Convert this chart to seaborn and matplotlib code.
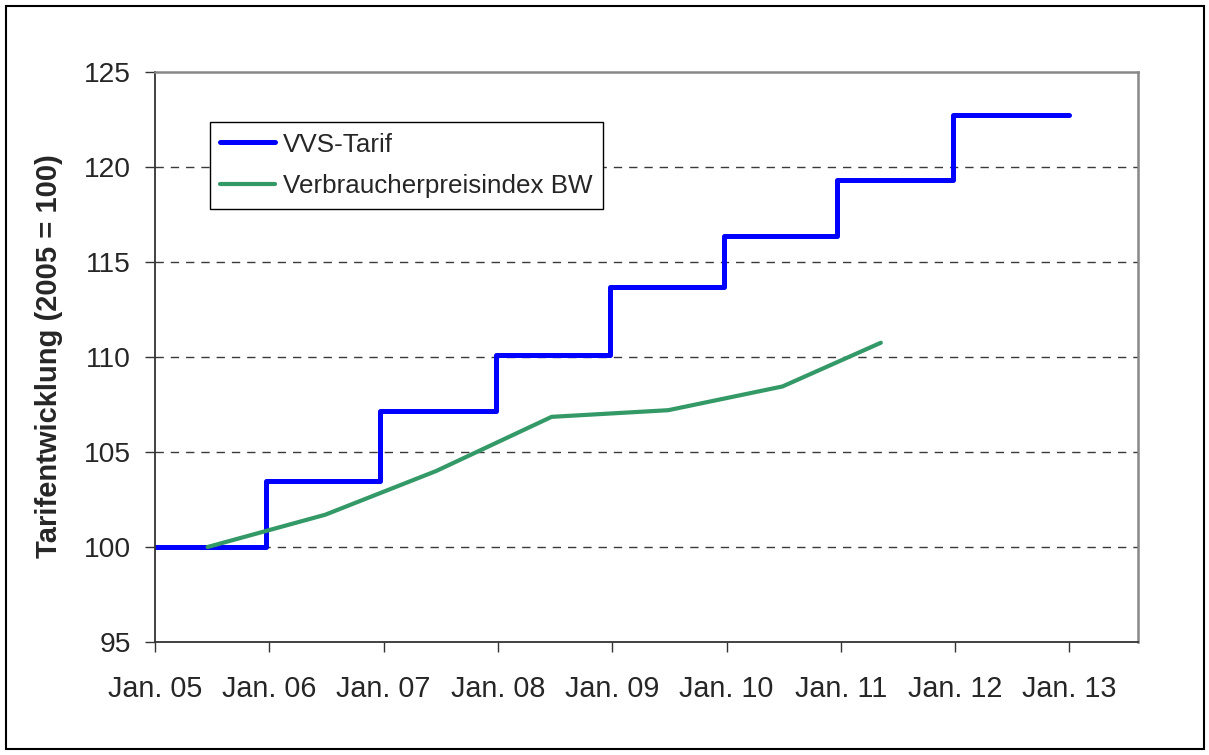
import numpy as np
import pandas as pd
import matplotlib.pyplot as plt
import seaborn as sns
from matplotlib.patches import Rectangle

# VVS-Tarif: Tarifstufen (Jahresanfang), Index 2005 = 100
tarif_dates = [2005.0, 2005.97, 2006.97, 2007.98, 2008.98, 2009.98, 2010.97, 2011.98, 2013.0]
tarif_values = [100.0, 103.45, 107.15, 110.1, 113.7, 116.35, 119.3, 122.75, 122.75]

# Verbraucherpreisindex BW (Jahresmittel, mittig im Jahr)
vpi_dates = [2005.46, 2006.49, 2007.46, 2008.47, 2009.49, 2010.49, 2011.35]
vpi_values = [100.0, 101.7, 104.0, 106.85, 107.2, 108.45, 110.75]

tick_years = [2005, 2006, 2007, 2008, 2009, 2010, 2011, 2012, 2013]
tick_labels = ['Jan. 05', 'Jan. 06', 'Jan. 07', 'Jan. 08', 'Jan. 09',
               'Jan. 10', 'Jan. 11', 'Jan. 12', 'Jan. 13']

sns.set_style('white')
plt.rcParams['font.family'] = ['Liberation Sans', 'DejaVu Sans']

fig = plt.figure(figsize=(12.09, 7.55), dpi=100)
ax = fig.add_axes([155 / 1209, 1 - 642 / 755, (1138 - 155) / 1209, (642 - 72) / 755])

tarif = pd.DataFrame({'x': tarif_dates, 'y': tarif_values})
vpi = pd.DataFrame({'x': vpi_dates, 'y': vpi_values})

sns.lineplot(data=tarif, x='x', y='y', ax=ax, color='#0000FF', linewidth=3.6,
             drawstyle='steps-post', estimator=None, label='VVS-Tarif')
sns.lineplot(data=vpi, x='x', y='y', ax=ax, color='#339966', linewidth=3.0,
             estimator=None, label='Verbraucherpreisindex BW')

ax.set_xlim(2005, 2013.6)
ax.set_ylim(95, 125)
ax.set_xticks(tick_years)
ax.set_xticklabels(tick_labels)
ax.set_yticks([95, 100, 105, 110, 115, 120, 125])
ax.set_xlabel('')
ax.set_ylabel('')

# gestrichelte Gitterlinien
for v in [100, 105, 110, 115, 120]:
    ax.axhline(v, color='#3a3a3a', linewidth=1.0, linestyle=(0, (6, 5)), zorder=0)

for s in ['left', 'bottom']:
    ax.spines[s].set_color('#333333')
    ax.spines[s].set_linewidth(1.3)
for s in ['top', 'right']:
    ax.spines[s].set_color('#888888')
    ax.spines[s].set_linewidth(1.8)

ax.tick_params(axis='x', direction='out', length=7.5, width=1, color='#333333',
               labelsize=20.7, pad=16.5, bottom=True)
ax.tick_params(axis='y', direction='out', length=7.5, width=1, color='#333333',
               labelsize=20.3, pad=10, left=True)

leg = ax.legend(loc='upper left', bbox_to_anchor=(0.056, 0.912), fontsize=18.75,
                frameon=True, fancybox=False, edgecolor='black', framealpha=1,
                handlelength=2.1, handletextpad=0.3, borderpad=0.4,
                labelspacing=0.68, borderaxespad=0)
leg.get_frame().set_linewidth(1.0)

fig.text(49 / 1209, 1 - 356 / 755, 'Tarifentwicklung (2005 = 100)', rotation=90,
         ha='center', va='center', fontsize=21, fontweight='bold')

# Rahmen um die ganze Grafik
fig.patches.append(Rectangle((6 / 1209, 6 / 755), 1198 / 1209, 743 / 755,
                             transform=fig.transFigure, fill=False,
                             edgecolor='black', linewidth=1.5))

plt.savefig('out.png', dpi=100)
